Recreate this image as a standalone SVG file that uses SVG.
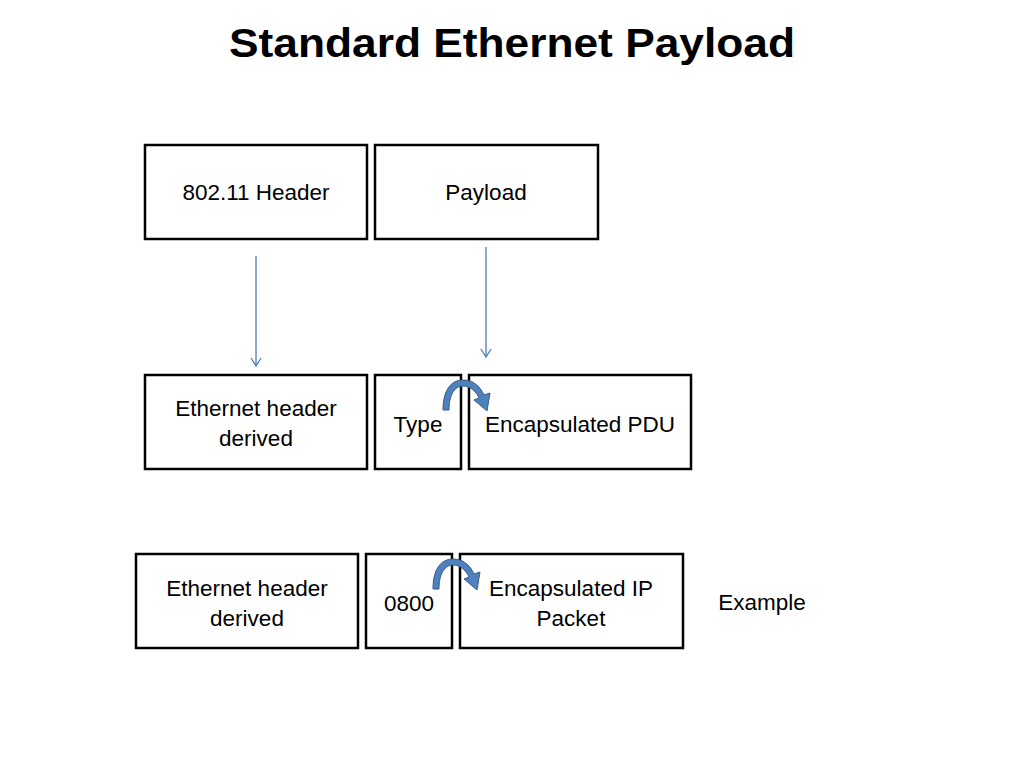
<svg xmlns="http://www.w3.org/2000/svg" width="1024" height="768" viewBox="0 0 1024 768">
<defs>
<style>
.box{fill:#fff;stroke:#000;stroke-width:2.5}
.t{font-family:"Liberation Sans",Arial,sans-serif;font-size:22.5px;fill:#000;text-anchor:middle}
.title{font-family:"Liberation Sans",Arial,sans-serif;font-size:40px;font-weight:bold;fill:#000;text-anchor:middle}
.conn{stroke:#4a7ebb;stroke-width:1.3;fill:none}
.curl{fill:#4f81bd;stroke:#385d8a;stroke-width:1}
</style>
<marker id="v" viewBox="0 0 12 12" refX="11" refY="6" markerWidth="12" markerHeight="12" markerUnits="userSpaceOnUse" orient="auto">
<path d="M3,1 L11,6 L3,11" fill="none" stroke="#4a7ebb" stroke-width="1.3"/>
</marker>
<path id="curlArrow" class="curl" d="M443,410 C443,390 451,380 463,380 C473,380 480,386 484,395 L490,393 L487,411 L474,400 L479,398 C476,391 470,386 463,386 C454,386 449,396 449,410 Z"/>
</defs>
<text class="title" x="512" y="57" textLength="566" lengthAdjust="spacingAndGlyphs">Standard Ethernet Payload</text>

<g id="hdr80211"><rect class="box" x="145" y="145" width="222" height="94"/><text class="t" x="256" y="200">802.11 Header</text></g>
<g id="payload"><rect class="box" x="375" y="145" width="223" height="94"/><text class="t" x="486" y="200">Payload</text></g>

<g id="ethhdr1"><rect class="box" x="145" y="375" width="222" height="94"/><text class="t" x="256" y="416">Ethernet header</text><text class="t" x="256" y="446">derived</text></g>
<g id="type"><rect class="box" x="375" y="375" width="86" height="94"/><text class="t" x="418" y="432">Type</text></g>
<g id="pdu"><rect class="box" x="469" y="375" width="222" height="94"/><text class="t" x="580" y="432">Encapsulated PDU</text></g>

<g id="ethhdr2"><rect class="box" x="136" y="554" width="222" height="94"/><text class="t" x="247" y="596">Ethernet header</text><text class="t" x="247" y="626">derived</text></g>
<g id="code0800"><rect class="box" x="366" y="554" width="86" height="94"/><text class="t" x="409" y="611">0800</text></g>
<g id="ippkt"><rect class="box" x="460" y="554" width="223" height="94"/><text class="t" x="571" y="596">Encapsulated IP</text><text class="t" x="571" y="626">Packet</text></g>

<g id="example"><text class="t" x="762" y="610">Example</text></g>

<g id="connectors">
<line class="conn" x1="256" y1="256" x2="256" y2="366" marker-end="url(#v)"/>
<line class="conn" x1="486" y1="247" x2="486" y2="357" marker-end="url(#v)"/>
<use href="#curlArrow"/>
<use href="#curlArrow" transform="translate(-10,179)"/>
</g>
</svg>
